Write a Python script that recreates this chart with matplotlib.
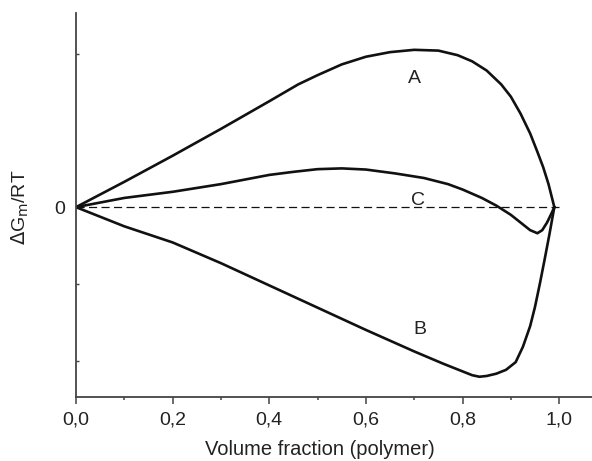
import matplotlib
matplotlib.use("Agg")
import matplotlib.pyplot as plt

plt.rcParams['font.family'] = ['Liberation Sans', 'DejaVu Sans']

# curve A (positive, miscible)
xa = [0, 0.1, 0.2, 0.3, 0.4, 0.46, 0.5, 0.55, 0.6, 0.65, 0.7, 0.75, 0.79, 0.82,
      0.85, 0.88, 0.9, 0.92, 0.94, 0.955, 0.967, 0.978, 0.99]
ya = [0, 0.33, 0.67, 1.02, 1.38, 1.6, 1.72, 1.86, 1.96, 2.02, 2.05, 2.04, 1.98, 1.9,
      1.78, 1.6, 1.44, 1.22, 0.96, 0.72, 0.52, 0.3, 0.0]

# curve B (negative)
xb = [0, 0.1, 0.2, 0.3, 0.4, 0.5, 0.6, 0.7, 0.76, 0.8, 0.82, 0.835, 0.85, 0.87,
      0.89, 0.91, 0.925, 0.94, 0.95, 0.96, 0.97, 0.98, 0.99]
yb = [0, -0.25, -0.46, -0.73, -1.02, -1.31, -1.6, -1.88, -2.04, -2.14, -2.19, -2.21, -2.2, -2.17,
      -2.12, -2.02, -1.82, -1.55, -1.3, -1.0, -0.68, -0.35, 0.0]

# curve C (partially miscible)
xc = [0, 0.1, 0.2, 0.3, 0.4, 0.45, 0.5, 0.55, 0.6, 0.66, 0.72, 0.77, 0.8, 0.84,
      0.87, 0.9, 0.92, 0.94, 0.955, 0.965, 0.975, 0.985, 0.99]
yc = [0, 0.12, 0.2, 0.3, 0.42, 0.46, 0.495, 0.505, 0.49, 0.44, 0.38, 0.3, 0.23, 0.12,
      0.02, -0.1, -0.2, -0.3, -0.34, -0.3, -0.2, -0.07, 0.0]

labels = ['A', 'B', 'C']
label_x = [0.701, 0.712, 0.707]
label_y = [1.67, -1.6, 0.09]

fig = plt.figure(figsize=(5.92, 4.61), dpi=100)
ax = fig.add_axes([0.1284, 0.1395, 0.8716, 0.8323])

ax.plot([0, 1.0], [0, 0], color='#111111', lw=0.9, ls=(0, (6.5, 3.5)))
for x, y in [(xa, ya), (xb, yb), (xc, yc)]:
    ax.plot(x, y, color='#111111', lw=1.9, solid_joinstyle='round')

for t, x, y in zip(labels, label_x, label_y):
    ax.text(x, y, t, ha='center', va='center', fontsize=14, color='#222222')

ax.set_xlim(0, 1.068)
ax.set_ylim(-2.47, 2.53)

ax.spines['top'].set_visible(False)
ax.spines['right'].set_visible(False)
for s in ['left', 'bottom']:
    ax.spines[s].set_color('#444444')
    ax.spines[s].set_linewidth(1.3)

ax.set_xticks([0, 0.2, 0.4, 0.6, 0.8, 1.0])
ax.set_xticklabels(['0,0', '0,2', '0,4', '0,6', '0,8', '1,0'])
ax.set_xticks([0.1, 0.3, 0.5, 0.7, 0.9], minor=True)
ax.tick_params(axis='x', which='major', direction='out', length=5, width=1.1,
               colors='#444444', labelcolor='#222222', labelsize=14, pad=6)
ax.tick_params(axis='x', which='minor', direction='out', length=2.5, width=1.1, colors='#444444')

ax.set_yticks([-2, -1, 0, 2])
ax.set_yticklabels(['', '', '0', ''])
ax.tick_params(axis='y', direction='in', length=2.5, width=1.0,
               colors='#444444', labelcolor='#222222', labelsize=14, pad=8)

ax.set_xlabel('Volume fraction (polymer)', fontsize=14.5, color='#222222')
ax.xaxis.set_label_coords(0.473, -0.112)
ax.set_ylabel(r'$\Delta$G$_\mathrm{m}$/RT', fontsize=14, color='#222222')
ax.yaxis.set_label_coords(-0.088, 0.494)

fig.savefig('out.png', dpi=100)
